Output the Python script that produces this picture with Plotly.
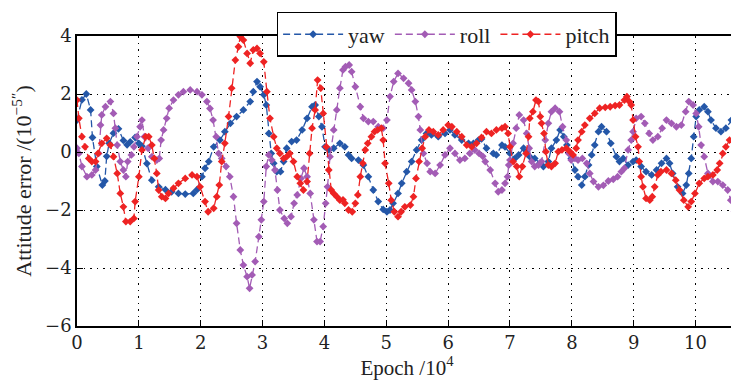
import plotly.graph_objects as go

# Epoch (units of 10^4) and attitude error (units of 10^-5 arcsec)
yaw_x = [0.0, 0.08, 0.15, 0.22, 0.25, 0.32, 0.41, 0.45, 0.48, 0.52, 0.59, 0.67, 0.75, 0.81, 0.86, 0.94, 1.0, 1.05,
         1.13, 1.21, 1.32, 1.43, 1.53, 1.64, 1.75, 1.88, 1.94, 2.02, 2.07, 2.13, 2.21, 2.31, 2.39, 2.48, 2.58, 2.69,
         2.8, 2.85, 2.91, 2.96, 3.02, 3.06, 3.1, 3.14, 3.18, 3.23, 3.29, 3.34, 3.39, 3.47, 3.55, 3.64, 3.72, 3.8,
         3.85, 3.91, 3.96, 4.01, 4.07, 4.15, 4.25, 4.33, 4.39, 4.44, 4.55, 4.63, 4.71, 4.79, 4.87, 4.95, 5.01, 5.06,
         5.11, 5.19, 5.25, 5.33, 5.41, 5.49, 5.57, 5.65, 5.73, 5.84, 5.95, 6.03, 6.11, 6.22, 6.33, 6.41, 6.49, 6.54,
         6.62, 6.73, 6.78, 6.87, 6.92, 7.0, 7.08, 7.14, 7.22, 7.27, 7.32, 7.4, 7.48, 7.54, 7.62, 7.67, 7.75, 7.81,
         7.87, 7.92, 7.99, 8.05, 8.1, 8.16, 8.21, 8.27, 8.32, 8.37, 8.43, 8.48, 8.56, 8.63, 8.72, 8.77, 8.83, 8.91,
         8.99, 9.04, 9.12, 9.2, 9.29, 9.37, 9.45, 9.53, 9.58, 9.63, 9.71, 9.79, 9.85, 9.89, 9.93, 9.97, 10.01, 10.06,
         10.14, 10.2, 10.25, 10.33, 10.41, 10.49, 10.58, 10.65]
yaw_y = [1.1, 1.8, 2.0, 1.45, 0.5, -0.5, -1.14, -1.0, -0.15, 0.3, 0.65, 0.8, 0.4, 0.25, 0.35, 0.5, 0.3, 0.2,
         -0.4, -0.97, -1.2, -1.3, -1.37, -1.43, -1.45, -1.43, -1.3, -0.85, -0.56, -0.33, 0.18, 0.41, 0.7, 0.99, 1.22, 1.45,
         1.74, 2.08, 2.43, 2.25, 1.97, 1.62, 0.64, -0.05, -0.39, -0.68, -0.68, -0.33, 0.13, 0.36, 0.41, 0.76, 1.16, 1.56,
         1.62, 1.22, 0.87, 0.18, 0.07, 0.13, 0.3, 0.18, -0.1, -0.22, -0.28, -0.45, -0.85, -1.31, -1.71, -1.98, -2.06, -2.0,
         -1.77, -1.43, -1.08, -0.68, -0.33, 0.07, 0.41, 0.64, 0.59, 0.53, 0.64, 0.76, 0.59, 0.41, 0.3, 0.3, 0.41, 0.45,
         0.13, -0.05, -0.1, 0.24, 0.18, -0.05, -0.22, -0.1, 0.13, 0.01, -0.16, -0.22, -0.39, -0.5, -0.33, 0.13, 0.41, 0.76,
         0.53, 0.24, -0.22, -0.62, -0.85, -1.14, -0.85, -0.45, -0.1, 0.24, 0.7, 0.87, 0.7, 0.3, -0.16, -0.33, -0.22, -0.45,
         -0.33, -0.28, -0.5, -0.68, -0.79, -0.62, -0.39, -0.22, -0.39, -0.74, -1.2, -1.43, -1.14, -0.74, -0.22, 0.53, 1.22, 1.45,
         1.56, 1.39, 1.1, 0.82, 0.7, 0.82, 1.1, 1.28]

roll_x = [0.0, 0.03, 0.08, 0.16, 0.24, 0.3, 0.35, 0.38, 0.4, 0.46, 0.54, 0.59, 0.62, 0.65, 0.7, 0.75, 0.79, 0.82,
          0.88, 0.92, 0.97, 1.02, 1.05, 1.09, 1.15, 1.21, 1.29, 1.33, 1.36, 1.4, 1.45, 1.49, 1.56, 1.64, 1.72, 1.83,
          1.94, 2.02, 2.1, 2.15, 2.2, 2.25, 2.29, 2.34, 2.41, 2.47, 2.53, 2.58, 2.64, 2.69, 2.75, 2.79, 2.83, 2.88,
          2.94, 2.98, 3.02, 3.06, 3.1, 3.15, 3.2, 3.24, 3.28, 3.35, 3.4, 3.46, 3.51, 3.56, 3.62, 3.67, 3.72, 3.77,
          3.83, 3.88, 3.93, 3.98, 4.02, 4.05, 4.09, 4.15, 4.2, 4.25, 4.3, 4.34, 4.4, 4.44, 4.5, 4.58, 4.63, 4.71,
          4.79, 4.87, 4.95, 5.01, 5.06, 5.12, 5.19, 5.28, 5.36, 5.41, 5.47, 5.52, 5.55, 5.6, 5.66, 5.71, 5.79, 5.87,
          5.95, 6.03, 6.11, 6.19, 6.27, 6.35, 6.43, 6.5, 6.56, 6.6, 6.68, 6.76, 6.81, 6.87, 6.92, 6.96, 6.98, 7.0,
          7.05, 7.1, 7.15, 7.22, 7.27, 7.31, 7.35, 7.4, 7.46, 7.51, 7.57, 7.62, 7.67, 7.73, 7.8, 7.85, 7.91, 7.95,
          7.99, 8.05, 8.1, 8.17, 8.24, 8.29, 8.35, 8.43, 8.51, 8.59, 8.67, 8.74, 8.8, 8.85, 8.91, 8.96, 8.99, 9.04,
          9.12, 9.18, 9.25, 9.31, 9.39, 9.46, 9.53, 9.61, 9.69, 9.77, 9.84, 9.89, 9.96, 10.01, 10.05, 10.09, 10.14, 10.2,
          10.28, 10.36, 10.44, 10.52, 10.57, 10.63]
roll_y = [0.13, -0.05, -0.5, -0.85, -0.79, -0.62, -0.05, 0.93, 1.28, 1.56, 1.74, 1.33, 0.82, 0.24, -0.33, -0.62, -0.85, -0.33,
          -0.1, 0.18, 0.53, 0.87, 1.1, 0.53, 0.13, -0.16, -0.28, -0.22, 0.41, 0.76, 1.16, 1.51, 1.79, 1.97, 2.08, 2.14,
          2.08, 1.97, 1.74, 1.5, 1.1, 0.53, -0.05, -0.22, -0.5, -0.85, -1.54, -2.46, -3.38, -3.9, -4.3, -4.7, -4.24, -3.78,
          -2.92, -2.34, -1.71, -0.5, -0.1, -0.28, -0.62, -1.31, -2.0, -2.29, -2.46, -2.23, -1.77, -1.48, -0.91, -0.56, -0.85, -1.43,
          -2.34, -3.09, -3.09, -2.57, -1.77, -1.2, -0.16, 0.76, 1.45, 2.2, 2.83, 2.94, 3.0, 2.77, 2.25, 1.56, 1.16, 1.05,
          1.05, 0.87, 0.82, 1.1, 1.91, 2.43, 2.71, 2.54, 2.37, 2.14, 1.74, 1.22, 0.76, -0.05, -0.39, -0.68, -0.74, -0.45,
          -0.1, 0.13, -0.05, -0.28, -0.22, -0.05, 0.07, -0.05, -0.15, -0.33, -0.62, -1.08, -1.37, -1.31, -1.08, -0.85, -0.45, -0.28,
          0.3, 0.82, 1.28, 1.1, 0.64, 0.13, -0.33, -0.5, -0.45, -0.33, 0.41, 0.99, 1.39, 1.51, 1.39, 0.87, 0.41, -0.05,
          -0.28, -0.22, -0.28, -0.22, -0.39, -0.74, -1.02, -1.2, -1.15, -1.0, -0.94, -0.85, -0.68, -0.56, 0.07, 0.41, 0.7, 1.16,
          1.22, 0.99, 0.64, 0.41, 0.53, 0.82, 1.1, 0.99, 0.87, 0.93, 1.39, 1.74, 1.62, 1.33, 0.87, 0.24, -0.16, -0.74,
          -1.02, -1.02, -1.14, -1.31, -1.66, -2.06]

pitch_x = [0.0, 0.03, 0.08, 0.13, 0.19, 0.24, 0.3, 0.34, 0.4, 0.48, 0.54, 0.59, 0.65, 0.7, 0.75, 0.79, 0.86, 0.92,
           0.94, 1.0, 1.05, 1.11, 1.16, 1.21, 1.25, 1.29, 1.32, 1.37, 1.43, 1.48, 1.56, 1.64, 1.75, 1.86, 1.94, 1.99,
           2.07, 2.12, 2.21, 2.26, 2.3, 2.34, 2.39, 2.45, 2.5, 2.56, 2.61, 2.64, 2.69, 2.75, 2.8, 2.85, 2.91, 2.96,
           3.02, 3.07, 3.12, 3.18, 3.23, 3.28, 3.34, 3.39, 3.44, 3.5, 3.56, 3.61, 3.66, 3.72, 3.76, 3.8, 3.85, 3.89,
           3.94, 3.98, 4.03, 4.07, 4.11, 4.15, 4.2, 4.25, 4.3, 4.33, 4.39, 4.45, 4.5, 4.54, 4.58, 4.62, 4.66, 4.7,
           4.76, 4.81, 4.86, 4.92, 4.95, 4.98, 5.04, 5.08, 5.13, 5.19, 5.24, 5.3, 5.39, 5.44, 5.48, 5.53, 5.58, 5.63,
           5.69, 5.76, 5.84, 5.92, 6.0, 6.06, 6.14, 6.22, 6.3, 6.38, 6.46, 6.54, 6.62, 6.7, 6.78, 6.87, 6.92, 6.97,
           7.0, 7.05, 7.11, 7.15, 7.2, 7.26, 7.3, 7.32, 7.37, 7.42, 7.46, 7.49, 7.51, 7.55, 7.58, 7.62, 7.67, 7.73,
           7.78, 7.84, 7.91, 7.97, 8.02, 8.07, 8.1, 8.16, 8.21, 8.29, 8.37, 8.45, 8.54, 8.62, 8.7, 8.77, 8.85, 8.89,
           8.93, 8.96, 8.99, 9.03, 9.07, 9.09, 9.12, 9.15, 9.2, 9.26, 9.3, 9.34, 9.39, 9.44, 9.53, 9.61, 9.68, 9.74,
           9.81, 9.88, 9.93, 9.99, 10.06, 10.14, 10.2, 10.28, 10.35, 10.39, 10.44, 10.49, 10.55, 10.63]
pitch_y = [1.79, 1.16, 0.53, 0.18, -0.22, -0.33, -0.33, -0.05, 0.3, 0.47, 0.24, -0.16, -0.74, -1.43, -1.89, -2.4, -2.4, -2.29,
           -1.71, -0.85, 0.07, 0.53, 0.53, 0.24, -0.22, -0.74, -1.31, -1.54, -1.6, -1.43, -1.25, -1.08, -0.91, -0.79, -0.85, -1.2,
           -1.71, -2.06, -1.94, -1.54, -1.14, -0.33, 0.3, 1.22, 2.2, 3.17, 3.63, 3.98, 3.86, 3.4, 3.06, 3.52, 3.57, 3.4,
           3.11, 2.08, 1.16, 0.53, 0.13, -0.05, -0.22, -0.16, -0.05, -0.33, -0.85, -1.08, -1.31, -1.02, -0.05, 0.82, 1.45, 2.48,
           2.2, 1.33, 0.18, -0.62, -1.31, -1.43, -1.54, -1.66, -1.65, -1.77, -2.0, -2.06, -1.77, -1.48, -0.85, -0.39, 0.07, 0.3,
           0.53, 0.7, 0.76, 0.82, 0.41, -0.39, -1.08, -1.66, -2.06, -2.23, -2.06, -1.89, -1.83, -1.54, -0.91, -0.33, 0.13, 0.53,
           0.76, 0.7, 0.59, 0.76, 0.93, 0.87, 0.7, 0.53, 0.24, 0.18, 0.3, 0.5, 0.7, 0.64, 0.76, 0.82, 0.87, 0.64,
           0.18, -0.33, -0.5, -0.85, -0.5, -0.05, 0.53, 1.16, 1.39, 1.79, 1.74, 1.22, 0.99, 0.64, 0.01, -0.45, -0.5, -0.39,
           0.01, 0.07, 0.13, 0.01, -0.1, 0.13, 0.41, 0.7, 0.93, 1.16, 1.33, 1.51, 1.54, 1.56, 1.6, 1.62, 1.79, 1.91,
           1.74, 1.62, 1.1, 0.53, 0.18, -0.33, -0.85, -1.2, -1.6, -1.66, -1.54, -1.2, -0.79, -0.68, -0.62, -0.74, -0.97, -1.31,
           -1.66, -1.89, -1.71, -1.43, -1.08, -0.91, -0.85, -0.79, -0.62, -0.39, -0.05, 0.18, 0.41, 0.47]

x_ticks = [0, 1, 2, 3, 4, 5, 6, 7, 8, 9, 10]
x_ticktext = ["0", "1", "2", "3", "4", "5", "6", "7", "8", "9", "10"]
y_ticks = [-6, -4, -2, 0, 2, 4]
y_ticktext = ["−6", "−4", "−2", "0", "2", "4"]

series = [
    ("yaw", yaw_x, yaw_y, "#2457a8"),
    ("roll", roll_x, roll_y, "#a35cb5"),
    ("pitch", pitch_x, pitch_y, "#ee2323"),
]

FONT = "Liberation Serif, DejaVu Serif, serif"
TICKFONT = "DejaVu Serif"
TXT = "#222222"

fig = go.Figure()
for name, xs, ys, col in series:
    fig.add_trace(go.Scatter(
        x=xs, y=ys, name=name, mode="lines+markers",
        line=dict(color=col, width=1.3, dash="7px,4px"),
        marker=dict(symbol="diamond", size=6, color=col, line=dict(width=0)),
    ))

axis_common = dict(
    showline=True, linecolor="black", linewidth=1.5, mirror=True,
    ticks="inside", ticklen=6, tickcolor="black", tickwidth=1.2,
    showgrid=True, gridcolor="black", gridwidth=1, griddash="1.5px,5px",
    zeroline=False,
)

fig.update_xaxes(range=[0, 10.67], tickvals=x_ticks, ticktext=x_ticktext, **axis_common,
                 tickfont=dict(family=TICKFONT, size=18, color=TXT),
                 title=dict(text="Epoch /10<sup>4</sup>", font=dict(family=FONT, size=21, color=TXT), standoff=5))
fig.update_yaxes(range=[-6, 4], tickvals=y_ticks, ticktext=y_ticktext, **axis_common,
                 tickfont=dict(family=TICKFONT, size=18, color=TXT),
                 title=dict(text="Attitude error /(10<sup>−5″</sup>)", font=dict(family=FONT, size=22, color=TXT), standoff=8))

# the page body adds an 8px offset, so the figure is 8px smaller and margins shifted
fig.update_layout(
    width=731, height=372,
    margin=dict(l=69, r=0, t=28, b=54),
    paper_bgcolor="white", plot_bgcolor="white",
    font=dict(family=FONT, color=TXT),
    showlegend=True,
    legend=dict(
        orientation="h", x=0.56, y=1.083, xanchor="center", yanchor="top",
        bgcolor="white", bordercolor="black", borderwidth=1.5,
        font=dict(family=FONT, size=22, color=TXT),
        itemwidth=60, tracegroupgap=0,
    ),
)

fig.write_html("out.html")
